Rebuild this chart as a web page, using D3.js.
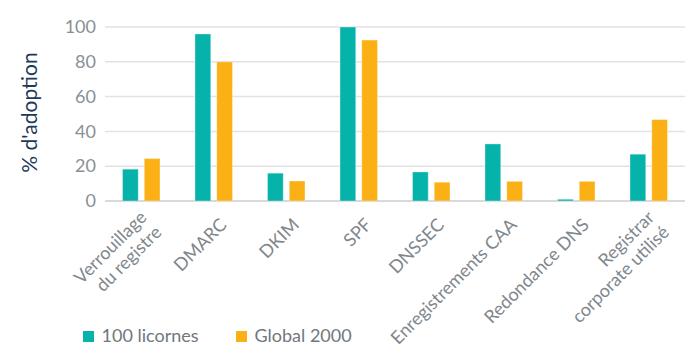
<!DOCTYPE html>
<html>
<head>
<meta charset="utf-8">
<script src="https://cdn.jsdelivr.net/npm/d3@7"></script>
<style>
    body { margin: 0; background: #fff; }
    text { font-family: Lato, "Open Sans", sans-serif; }
</style>
</head>
<body>
<div id="chart"></div>
<script>
// categories (multi-line labels split by "|")
const categories = ["Verrouillage|du registre", "DMARC", "DKIM", "SPF", "DNSSEC",
    "Enregistrements CAA", "Redondance DNS", "Registrar|corporate utilisé"];
const seriesNames = ["100 licornes", "Global 2000"];
const licornes = [18.3, 96, 16, 100, 16.7, 32.8, 1, 26.9];
const global2000 = [24.4, 80, 11.5, 92.5, 10.8, 11.3, 11.3, 46.8];
const yTicks = [0, 20, 40, 60, 80, 100];

function groupedBarChart(target) {
    // Setting the margins
    const margin = {top: 27, right: 13, bottom: 150, left: 105},
        width = 698 - margin.left - margin.right,
        height = 351 - margin.top - margin.bottom;

    const color = d3.scaleOrdinal()
        .domain(seriesNames)
        .range(["#06b3aa", "#fbb116"]);

    const x0 = d3.scaleBand()
        .domain(categories)
        .range([0, width])
        .paddingInner(0.483)
        .paddingOuter(0.2415);
    const x1 = d3.scaleBand()
        .domain(seriesNames)
        .range([0, x0.bandwidth()])
        .paddingInner(0.276);
    const y = d3.scaleLinear()
        .domain([0, 100])
        .range([height, 0]);

    const svg = d3.select(target).append("svg")
        .attr("width", 698)
        .attr("height", 351)
        .append("g")
        .attr("transform", "translate(" + margin.left + "," + margin.top + ")");

    // gridlines
    svg.append("g")
        .selectAll("line")
        .data(yTicks)
        .enter().append("line")
        .attr("x1", 0)
        .attr("x2", width)
        .attr("y1", d => y(d))
        .attr("y2", d => y(d))
        .style("stroke", d => d === 0 ? "#d9d9d9" : "#e2e2e2")
        .style("stroke-width", d => d === 0 ? 2 : 1.5);

    // y axis labels
    const yAxis = svg.append("g")
        .call(d3.axisLeft(y).tickValues(yTicks).tickSize(0).tickPadding(9));
    yAxis.select(".domain").remove();
    yAxis.selectAll("text")
        .style("font-family", "Lato, sans-serif")
        .style("font-size", "18px")
        .style("fill", "#8a9095");

    // y title
    svg.append("text")
        .attr("transform", "translate(" + (37 - margin.left) + "," + (height / 2 - 1.5) + ") rotate(-90)")
        .style("text-anchor", "middle")
        .style("font-size", "21px")
        .style("fill", "#1d3a5b")
        .text("% d'adoption");

    const rows = categories.map((c, i) => ({cat: c, values: [
        {name: seriesNames[0], value: licornes[i]},
        {name: seriesNames[1], value: global2000[i]}
    ]}));

    const groups = svg.selectAll(".group")
        .data(rows)
        .enter().append("g")
        .attr("class", "group")
        .attr("transform", d => "translate(" + x0(d.cat) + ",0)");

    groups.selectAll("rect")
        .data(d => d.values)
        .enter().append("rect")
        .attr("x", d => x1(d.name))
        .attr("width", x1.bandwidth())
        .attr("y", d => y(d.value))
        .attr("height", d => y(0) - y(d.value))
        .style("fill", d => color(d.name))
        .style("stroke", "#fff")
        .style("stroke-opacity", 0.35)
        .style("stroke-width", 1);

    // rotated category labels
    const lineHeight = 21;
    const labels = svg.selectAll(".xlabel")
        .data(categories)
        .enter().append("text")
        .attr("class", "xlabel")
        .attr("transform", d => "translate(" + (x0(d) + x0.bandwidth() / 2 + 14) + "," + (height + 25) + ") rotate(-45)")
        .style("text-anchor", "end")
        .style("font-size", "18px")
        .style("fill", "#80878d");

    labels.each(function(d) {
        const lines = d.split("|");
        const el = d3.select(this);
        lines.forEach((line, i) => {
            el.append("tspan")
                .attr("x", 0)
                .attr("y", (i - (lines.length - 1) / 2) * lineHeight)
                .text(line);
        });
    });

    // legend
    const legendX = [83, 236];
    const legend = d3.select(target).select("svg").selectAll(".legend")
        .data(seriesNames)
        .enter().append("g")
        .attr("class", "legend")
        .attr("transform", (d, i) => "translate(" + legendX[i] + ",331)");

    legend.append("rect")
        .attr("width", 11)
        .attr("height", 11)
        .style("fill", color);

    legend.append("text")
        .attr("x", 18.5)
        .attr("y", 11)
        .style("font-size", "18px")
        .style("fill", "#70777d")
        .text(d => d);
}

groupedBarChart("#chart");
</script>
</body>
</html>
